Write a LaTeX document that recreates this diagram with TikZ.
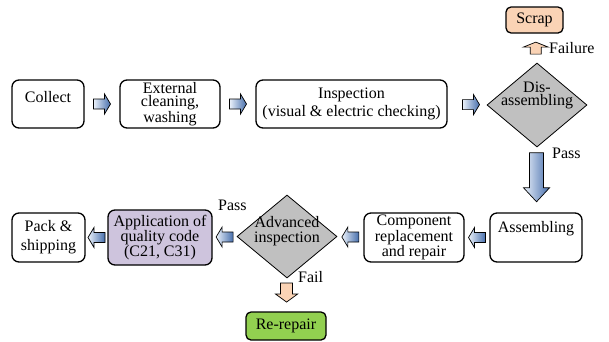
\documentclass[tikz,border=0pt]{standalone}
\usepackage{fontspec}
\setmainfont{Liberation Serif}
\usetikzlibrary{shapes.geometric,calc}

\definecolor{scrapfill}{RGB}{250,211,181}
\definecolor{decfill}{RGB}{192,192,192}
\definecolor{qualfill}{RGB}{206,196,221}
\definecolor{rerepfill}{RGB}{146,208,80}
\definecolor{arrowlight}{RGB}{234,241,250}
\definecolor{arrowdark}{RGB}{70,110,172}

% font size 16pt with a given baseline skip
\newcommand\fs[1]{\fontsize{16}{#1}\selectfont}

% horizontal block arrow: style, centre, direction (+1 right / -1 left),
% length, body half-width, head half-width, head length
\newcommand\hblock[7]{%
  \path[#1] ([shift={({#3*(-#4/2)},{-#5})}]#2)
    -- ++({#3*(#4-#7)},0) -- ++(0,{#5-#6}) -- ++({#3*#7},{#6})
    -- ++({-#3*#7},{#6}) -- ++(0,{#5-#6}) -- ++({-#3*(#4-#7)},0) -- cycle;}
% vertical block arrow: direction +1 down / -1 up
\newcommand\vblock[7]{%
  \path[#1] ([shift={({-#5},{#3*(-#4/2)})}]#2)
    -- ++(0,{#3*(#4-#7)}) -- ++({#5-#6},0) -- ++({#6},{#3*#7})
    -- ++({#6},{-#3*#7}) -- ++({#5-#6},0) -- ++(0,{-#3*(#4-#7)}) -- cycle;}

\tikzset{
  box/.style={draw, line width=1.3pt, rounded corners=7pt, align=center,
    inner sep=0pt, font=\fs{19}},
  decision/.style={diamond, draw, fill=decfill, line width=0.8pt, inner sep=0pt},
  lab/.style={inner sep=0pt, font=\fs{19}},
  bluearrow/.style={draw=black, line width=0.7pt, left color=arrowlight,
    right color=arrowdark},
  peacharrow/.style={draw=black, line width=0.7pt, fill=scrapfill},
}

\begin{document}
\begin{tikzpicture}[x=1pt, y=-1pt]
  \fill[white] (0,0) rectangle (609,341);

  % upper row
  \node[box, minimum width=72pt, minimum height=48pt, text height=11pt,
    text depth=15pt] (collect) at (48,104) {Collect};
  \node[box, minimum width=100pt, minimum height=48pt, font=\fs{12.8}]
    (clean) at (170,104) {External\\cleaning,\\washing};
  \node[box, minimum width=191pt, minimum height=48pt, font=\fs{18}]
    (insp) at (351.5,104) {Inspection\\(visual \& electric checking)};
  \node[decision, minimum width=100pt, minimum height=84pt] (dis) at (537,105) {};
  \node[align=center, inner sep=0pt, font=\fs{13}] (distext) at (537,95)
    {Dis-\\assembling};
  \node[box, fill=scrapfill, rounded corners=5pt, minimum width=57pt,
    minimum height=26pt] (scrap) at (534.5,20) {Scrap};

  % lower row
  \node[box, minimum width=92pt, minimum height=49pt, text height=11pt,
    text depth=20.6pt] (assem) at (536,237.5) {Assembling};
  \node[box, minimum width=100pt, minimum height=49pt, font=\fs{12}]
    (comp) at (414,237.5) {Component\\replacement\\and repair};
  \node[decision, minimum width=100pt, minimum height=83pt] (adv) at (287,236.5) {};
  \node[align=center, inner sep=0pt, font=\fs{15}] (advtext) at (287,231)
    {Advanced\\inspection};
  \node[box, fill=qualfill, minimum width=104pt, minimum height=55pt,
    font=\fs{15}] (appl) at (160,237.5) {Application of\\quality code\\(C21, C31)};
  \node[box, minimum width=73pt, minimum height=49pt, font=\fs{19}]
    (pack) at (48.5,237.5) {Pack \&\\shipping};
  \node[box, fill=rerepfill, rounded corners=5pt, minimum width=80pt,
    minimum height=28pt] (rerep) at (286,326) {Re-repair};

  % branch labels
  \node[lab, anchor=base west] (failure) at (549,53) {Failure};
  \node[lab, anchor=base west] (passdown) at (552,158) {Pass};
  \node[lab, anchor=base west] (passleft) at (218,210) {Pass};
  \node[lab, anchor=base west] (fail) at (298,282) {Fail};

  % block arrows between the steps
  \coordinate (a1) at ($(collect.east)!0.5!(clean.west)$);
  \coordinate (a2) at ($(clean.east)!0.5!(insp.west)$);
  \coordinate (a3) at ($(insp.east)!0.6!(dis.west)$);
  \coordinate (a4) at ($(dis.south)!0.46!(assem.north)$);
  \coordinate (a5) at ($(assem.west)!0.5!(comp.east)$);
  \coordinate (a6) at ($(comp.west)!0.5!(adv.east)$);
  \coordinate (a7) at ($(adv.west)!0.5!(appl.east)$);
  \coordinate (a8) at ($(appl.west)!0.5!(pack.east)$);
  \coordinate (a9) at ($(dis.north)!0.5!(scrap.south)$);
  \coordinate (a10) at ($(adv.south)!0.43!(rerep.north)$);

  \hblock{bluearrow}{a1}{1}{17}{5}{10}{6}
  \hblock{bluearrow}{a2}{1}{17}{5}{10}{6}
  \hblock{bluearrow}{a3}{1}{17}{5}{10}{6}
  \vblock{bluearrow}{a4}{1}{49}{7}{13}{14}
  \hblock{bluearrow}{a5}{-1}{17}{5}{10}{6}
  \hblock{bluearrow}{a6}{-1}{17}{5}{10}{6}
  \hblock{bluearrow}{a7}{-1}{17}{5}{10}{6}
  \hblock{bluearrow}{a8}{-1}{17}{5}{10}{6}
  \vblock{peacharrow}{a9}{-1}{12}{5.5}{12.5}{5}
  \vblock{peacharrow}{a10}{1}{19}{6}{11}{8}
\end{tikzpicture}
\end{document}
